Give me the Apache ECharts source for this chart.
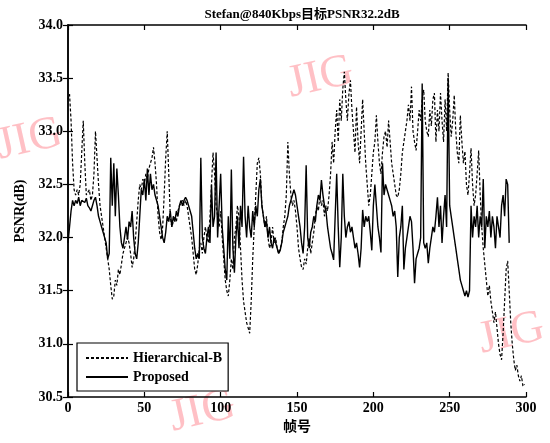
<!DOCTYPE html>
<html>
<head>
<meta charset="utf-8">
<script src="https://cdn.jsdelivr.net/npm/echarts@6/dist/echarts.min.js"></script>
<style>
html,body{margin:0;padding:0;background:#fff;}
#c{width:550px;height:443px;}
</style>
</head>
<body>
<div id="c"></div>
<script>
var titleText = 'Stefan@840Kbps目标PSNR32.2dB';
var xName = '帧号';
var yName = 'PSNR(dB)';
var seriesNames = ['Hierarchical-B', 'Proposed'];
var xTicks = [0, 50, 100, 150, 200, 250, 300];
var yTicks = [30.5, 31.0, 31.5, 32.0, 32.5, 33.0, 33.5, 34.0];

// Hierarchical-B PSNR per frame (frames 0..299)
var hierarchicalB = [
33.3,33.35,33.1,32.7,32.45,32.4,32.45,32.4,32.5,32.8,
33.1,32.7,32.4,32.4,32.45,32.35,32.4,32.6,33.0,32.75,
32.5,32.3,32.2,32.1,32.0,31.9,31.8,31.7,31.55,31.42,
31.45,31.6,31.55,31.7,31.65,31.75,31.85,31.9,31.95,32.0,
31.95,31.85,31.72,31.8,31.95,32.15,32.35,32.5,32.45,32.55,
32.5,32.6,32.55,32.65,32.7,32.75,32.85,32.7,32.5,32.2,
32.05,31.98,32.1,32.4,32.75,33.0,32.6,32.2,32.1,32.15,
32.2,32.15,32.25,32.3,32.3,32.35,32.3,32.35,32.3,32.2,
32.1,32.0,31.85,31.7,31.65,31.75,31.9,31.95,31.85,32.0,
32.1,32.0,31.95,32.2,32.5,32.8,32.6,32.3,32.2,32.1,
32.25,32.0,31.8,31.6,31.5,31.45,31.6,31.8,31.7,32.0,
32.1,32.3,32.2,31.9,31.6,31.4,31.3,31.2,31.15,31.1,
31.4,31.8,32.1,32.4,32.7,32.75,32.6,32.3,32.2,32.1,
32.2,32.0,31.9,31.95,32.1,31.95,32.0,31.9,31.85,31.9,
31.95,32.1,32.2,32.4,32.9,32.6,32.4,32.3,32.35,32.25,
32.1,31.9,31.8,31.72,31.7,31.8,31.75,31.9,32.0,31.85,
31.95,32.05,32.2,32.3,32.25,32.4,32.3,32.35,32.2,32.3,
32.25,32.4,32.6,32.9,32.7,33.0,33.2,32.9,33.3,33.1,
33.4,33.56,33.3,33.1,33.35,33.48,33.2,33.0,32.8,33.23,
32.9,32.7,33.0,33.3,33.0,32.7,32.5,32.3,32.4,32.6,
32.8,32.9,33.15,32.9,32.7,32.6,32.8,32.95,33.0,32.85,
33.1,32.9,32.7,32.6,32.5,32.4,32.38,32.45,32.6,32.8,
32.9,33.0,33.1,33.25,33.1,33.42,33.0,32.9,32.82,33.0,
33.2,33.1,33.3,33.39,33.1,33.0,32.95,33.2,33.05,33.3,
33.36,32.9,33.2,33.0,33.36,33.1,32.9,33.3,33.0,33.55,
33.2,32.95,33.1,33.34,33.0,32.8,32.7,33.15,32.9,32.7,
32.81,32.5,32.4,32.6,32.84,32.5,32.3,32.4,32.6,32.82,
32.4,32.1,31.9,31.75,31.6,31.45,31.55,31.4,31.3,31.2,
31.3,31.15,31.0,30.9,30.85,31.1,31.4,31.7,31.78,31.5,
31.2,31.0,30.85,30.75,30.8,30.7,30.65,30.7,30.6,30.62
];

// Proposed PSNR per frame (frames 0..289)
var proposed = [
31.95,32.1,32.25,32.35,32.3,32.35,32.32,32.38,32.3,32.35,
32.35,32.33,32.37,32.3,32.28,32.25,32.3,32.35,32.38,32.3,
32.2,32.15,32.1,32.05,32.0,31.95,31.8,31.85,32.75,32.3,
32.7,32.2,32.65,32.4,32.1,31.95,31.9,32.0,32.1,31.98,
32.15,32.1,32.25,32.0,31.85,31.8,31.95,32.2,32.45,32.4,
32.55,32.35,32.65,32.4,32.6,32.45,32.5,32.4,32.35,32.3,
32.2,32.1,32.0,31.95,32.05,32.2,32.15,32.25,32.1,32.2,
32.15,32.25,32.2,32.3,32.35,32.3,32.35,32.38,32.35,32.3,
32.3,32.2,32.05,31.9,31.8,31.85,31.8,32.75,32.0,31.9,
31.85,32.0,32.1,31.95,32.5,32.1,32.2,32.8,32.0,32.3,
32.6,32.1,31.9,31.7,31.6,32.2,31.8,32.64,31.9,31.67,
32.0,32.2,31.9,32.3,32.1,32.76,32.2,32.0,32.3,32.1,
32.0,32.25,32.1,32.3,32.2,32.45,32.55,32.3,32.2,32.1,
32.15,32.0,32.1,31.95,31.9,32.0,31.95,31.9,31.85,31.88,
31.95,32.05,32.1,32.15,32.2,32.3,32.35,32.4,32.45,32.4,
32.3,32.2,32.1,31.95,31.85,32.1,32.68,32.0,31.9,32.05,
32.1,32.2,32.15,32.3,32.4,32.35,32.54,32.4,32.3,32.25,
32.1,32.0,31.9,31.85,31.79,32.2,32.6,32.1,31.72,32.0,
32.6,32.2,32.0,32.1,32.15,32.05,32.1,32.0,31.9,31.95,
31.85,31.72,31.9,32.26,32.1,32.2,32.15,32.2,32.05,31.88,
32.3,32.5,32.3,32.1,32.0,31.86,32.7,32.4,32.5,32.45,
32.4,32.35,32.3,32.2,32.25,32.1,31.63,32.0,32.1,32.3,
31.7,31.9,32.0,32.1,32.2,32.15,31.9,31.57,31.8,31.85,
31.9,32.0,33.45,31.95,31.9,31.95,31.76,31.9,32.0,32.1,
32.05,32.2,32.38,32.1,32.3,31.95,32.2,32.4,32.1,33.5,
32.3,32.2,32.1,32.0,31.9,31.8,31.7,31.6,31.55,31.5,
31.45,31.5,31.44,31.5,32.3,32.0,32.2,32.1,32.3,32.0,
32.2,32.1,32.55,31.9,32.2,32.1,32.25,32.0,32.2,32.1,
31.9,32.2,32.1,32.0,32.3,32.4,32.2,32.55,32.5,31.95
];

var serif = '"Liberation Serif","Noto Sans CJK SC",serif';
var chart = echarts.init(document.getElementById('c'), null, {renderer: 'canvas'});

function toPairs(arr) { return arr.map(function (v, i) { return [i, v]; }); }

var gridBox = {left: 68, right: 24, top: 25, bottom: 46};
var xMin = xTicks[0], xMax = xTicks[xTicks.length - 1];
var yMin = yTicks[0], yMax = yTicks[yTicks.length - 1];

function wm(x, y) {
  return {
    type: 'text', left: x, top: y, rotation: 0.22, z: 0,
    style: {text: 'JIG', fill: 'rgba(255,140,150,0.55)', font: '46px "Liberation Serif", serif'}
  };
}

chart.setOption({
  animation: false,
  backgroundColor: '#fff',
  title: {
    text: titleText, left: 297, textAlign: 'center', top: 3,
    textStyle: {fontFamily: serif, fontSize: 13, fontWeight: 'bold', color: '#000'}
  },
  grid: gridBox,
  legend: {
    show: true,
    orient: 'vertical', left: 77, top: 343,
    itemWidth: 42, itemHeight: 12, itemGap: 5,
    padding: [8, 6, 7, 8],
    borderColor: '#000', borderWidth: 1.2, backgroundColor: '#fff',
    itemStyle: {opacity: 0},
    textStyle: {fontFamily: serif, fontSize: 14, fontWeight: 'bold', color: '#000'},
    data: seriesNames
  },
  xAxis: [{
    type: 'value', min: xMin, max: xMax, interval: 50,
    name: xName, nameLocation: 'middle', nameGap: 22,
    nameTextStyle: {fontFamily: serif, fontSize: 14, fontWeight: 'bold', color: '#000'},
    axisLine: {show: true, lineStyle: {color: '#000', width: 1.5}},
    axisTick: {inside: true, length: 5, lineStyle: {color: '#000', width: 1.2}},
    axisLabel: {fontFamily: serif, fontSize: 14, fontWeight: 'bold', color: '#000', margin: 4},
    splitLine: {show: false}
  }, {
    type: 'value', min: xMin, max: xMax, interval: 50, position: 'top',
    axisLine: {show: true, lineStyle: {color: '#000', width: 1.5}},
    axisTick: {inside: true, length: 5, lineStyle: {color: '#000', width: 1.2}},
    axisLabel: {show: false}, splitLine: {show: false}
  }],
  yAxis: [{
    type: 'value', min: yMin, max: yMax, interval: 0.5,
    name: yName, nameLocation: 'middle', nameGap: 40, nameRotate: 90,
    nameTextStyle: {fontFamily: serif, fontSize: 14, fontWeight: 'bold', color: '#000'},
    axisLine: {show: true, lineStyle: {color: '#000', width: 1.5}},
    axisTick: {inside: true, length: 5, lineStyle: {color: '#000', width: 1.2}},
    axisLabel: {fontFamily: serif, fontSize: 14, fontWeight: 'bold', color: '#000', margin: 5,
      formatter: function (v) { return v.toFixed(1); }},
    splitLine: {show: false}
  }, {
    type: 'value', min: yMin, max: yMax, interval: 0.5, position: 'right',
    axisLine: {show: true, lineStyle: {color: '#000', width: 1.5}},
    axisTick: {inside: true, length: 5, lineStyle: {color: '#000', width: 1.2}},
    axisLabel: {show: false}, splitLine: {show: false}
  }],
  series: [{
    name: seriesNames[0], type: 'line', data: toPairs(hierarchicalB),
    showSymbol: false, symbol: 'none', z: 3,
    itemStyle: {color: '#000'},
    lineStyle: {color: '#000', width: 1.2, type: [3, 2]}
  }, {
    name: seriesNames[1], type: 'line', data: toPairs(proposed),
    showSymbol: false, symbol: 'none', z: 4,
    itemStyle: {color: '#000'},
    lineStyle: {color: '#000', width: 1.4}
  }],
  graphic: [
    wm(283, 48), wm(-8, 110), wm(474, 304), wm(165, 382)
  ]
});
</script>
</body>
</html>
